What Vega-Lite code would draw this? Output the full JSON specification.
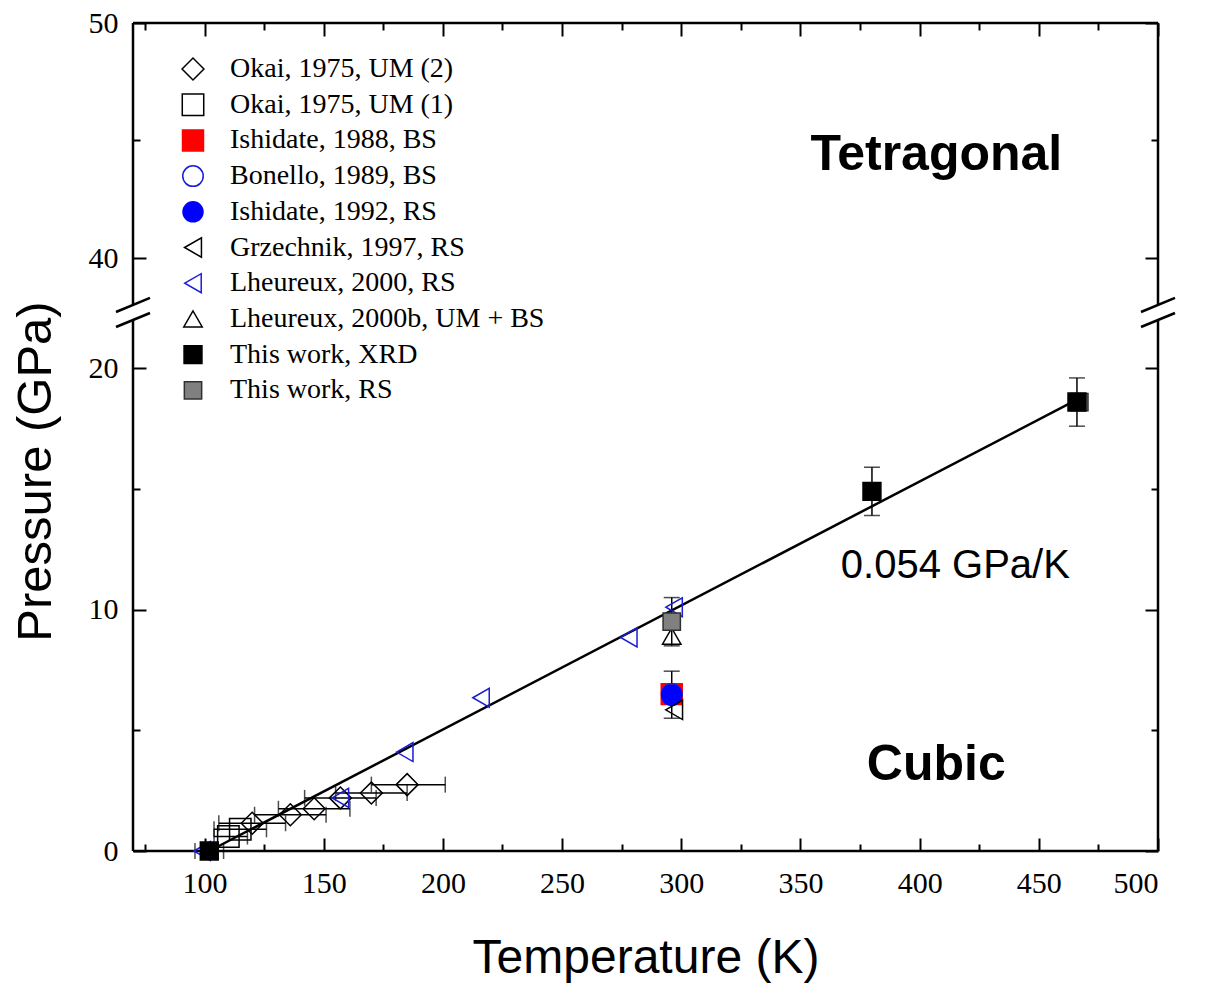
{
  "$schema": "https://vega.github.io/schema/vega-lite/v6.json",
  "width": 1025,
  "height": 828,
  "autosize": {"type": "none"},
  "padding": {"left": 133, "top": 23, "right": 50, "bottom": 134},
  "background": "white",
  "config": {"view": {"stroke": null}, "font": "Liberation Sans"},
  "datasets": {
    "frame": [
      {"x": 70, "x2": 500, "y": 0, "y2": 0},
      {"x": 70, "x2": 500, "y": 50, "y2": 50},
      {"x": 70, "x2": 70, "y": 0, "y2": 22},
      {"x": 70, "x2": 70, "y": 38, "y2": 50},
      {"x": 500, "x2": 500, "y": 0, "y2": 22},
      {"x": 500, "x2": 500, "y": 38, "y2": 50}
    ],
    "slash": [
      {"x": 62.87, "x2": 77.13, "y": 30.53, "y2": 38.3},
      {"x": 62.87, "x2": 77.13, "y": 21.71, "y2": 29.47},
      {"x": 492.87, "x2": 507.13, "y": 30.53, "y2": 38.3},
      {"x": 492.87, "x2": 507.13, "y": 21.71, "y2": 29.47}
    ],
    "fit": [{"T": 102, "P": 0}, {"T": 466, "P": 18.7}],
    "pts": [
      {"s": "Okai, 1975, UM (1)", "T": 110, "P": 0.6, "xlo": 104, "xhi": 118},
      {"s": "Okai, 1975, UM (1)", "T": 115, "P": 0.9, "xlo": 104, "xhi": 126},
      {"s": "Okai, 1975, UM (2)", "T": 120, "P": 1.15, "xlo": 106, "xhi": 134},
      {"s": "Okai, 1975, UM (2)", "T": 136, "P": 1.5, "xlo": 121, "xhi": 151},
      {"s": "Okai, 1975, UM (2)", "T": 146, "P": 1.75, "xlo": 131, "xhi": 161},
      {"s": "Okai, 1975, UM (2)", "T": 157, "P": 2.2, "xlo": 142, "xhi": 172},
      {"s": "Okai, 1975, UM (2)", "T": 170, "P": 2.4, "xlo": 155, "xhi": 185},
      {"s": "Okai, 1975, UM (2)", "T": 185, "P": 2.75, "xlo": 170, "xhi": 201},
      {"s": "Lheureux, 2000, RS", "T": 99, "P": 0},
      {"s": "Lheureux, 2000, RS", "T": 157, "P": 2.2},
      {"s": "Lheureux, 2000, RS", "T": 184, "P": 4.1},
      {"s": "Lheureux, 2000, RS", "T": 216, "P": 6.35},
      {"s": "Lheureux, 2000, RS", "T": 278, "P": 8.85},
      {"s": "Lheureux, 2000, RS", "T": 297, "P": 10.1},
      {"s": "Lheureux, 2000b, UM + BS", "T": 296, "P": 8.9},
      {"s": "Ishidate, 1988, BS", "T": 296, "P": 6.5},
      {"s": "Bonello, 1989, BS", "T": 296, "P": 6.5},
      {"s": "Ishidate, 1992, RS", "T": 296, "P": 6.45, "ylo": 5.5, "yhi": 7.45},
      {"s": "Grzechnik, 1997, RS", "T": 297, "P": 5.85},
      {"s": "This work, RS", "T": 296, "P": 9.5, "ylo": 8.5, "yhi": 10.5},
      {"s": "This work, RS", "T": 467, "P": 18.6},
      {"s": "This work, XRD", "T": 102, "P": 0, "xlo": 96, "xhi": 108},
      {"s": "This work, XRD", "T": 380, "P": 14.9, "ylo": 13.9, "yhi": 15.9},
      {"s": "This work, XRD", "T": 466, "P": 18.6, "ylo": 17.6, "yhi": 19.6}
    ],
    "boldtext": [
      {"T": 407, "P": 44.4, "t": "Tetragonal"},
      {"T": 407, "P": 3.55, "t": "Cubic"}
    ],
    "regtext": [{"T": 415, "P": 11.8, "t": "0.054 GPa/K"}]
  },
  "layer": [
    {
      "data": {"name": "frame"},
      "mark": {"type": "rule", "color": "black", "strokeWidth": 2.5},
      "encoding": {
        "x": {"field": "x", "type": "quantitative", "scale": {"domain": [70, 500], "nice": false, "zero": false},
          "axis": {"orient": "top", "values": [75,100,125,150,175,200,225,250,275,300,325,350,375,400,425,450,475,500], "labels": false, "domain": false, "grid": false, "ticks": true, "tickColor": "black", "tickWidth": 2, "tickSize": {"expr": "datum.value % 50 === 0 ? -13 : -7"}, "title": null}},
        "x2": {"field": "x2"},
        "y": {"field": "y", "type": "quantitative", "scale": {"domain": [0, 22, 38, 50], "range": [828, 297, 282, 0], "nice": false, "zero": false},
          "axis": {"orient": "right", "values": [0,5,10,15,20,40,45,50], "labels": false, "domain": false, "grid": false, "ticks": true, "tickColor": "black", "tickWidth": 2, "tickSize": {"expr": "datum.value % 10 === 0 ? -13 : -7"}, "title": null}},
        "y2": {"field": "y2"}
      }
    },
    {
      "data": {"name": "slash"},
      "mark": {"type": "rule", "color": "black", "strokeWidth": 2.5},
      "encoding": {
        "x": {"field": "x", "type": "quantitative", "axis": null},
        "x2": {"field": "x2"},
        "y": {"field": "y", "type": "quantitative", "axis": null},
        "y2": {"field": "y2"}
      }
    },
    {
      "data": {"name": "fit"},
      "mark": {"type": "line", "color": "black", "strokeWidth": 2.5},
      "encoding": {
        "x": {"field": "T", "type": "quantitative",
          "axis": {"orient": "bottom", "values": [75,100,125,150,175,200,225,250,275,300,325,350,375,400,425,450,475,500], "labelExpr": "datum.value % 50 === 0 ? datum.label : ''", "format": "d", "domain": false, "grid": false, "ticks": true, "tickColor": "black", "tickWidth": 2, "tickSize": {"expr": "datum.value % 50 === 0 ? -13 : -7"}, "labelFont": "Liberation Serif", "labelFontSize": 30, "labelColor": "black", "labelPadding": 30, "title": "Temperature (K)", "titleFont": "Liberation Sans", "titleFontSize": 48, "titleFontWeight": "normal", "titleColor": "black", "titlePadding": 36}},
        "y": {"field": "P", "type": "quantitative",
          "axis": {"orient": "left", "values": [0,5,10,15,20,40,45,50], "labelExpr": "datum.value % 10 === 0 ? datum.label : ''", "format": "d", "domain": false, "grid": false, "ticks": true, "tickColor": "black", "tickWidth": 2, "tickSize": {"expr": "datum.value % 10 === 0 ? -13 : -7"}, "labelFont": "Liberation Serif", "labelFontSize": 30, "labelColor": "black", "labelPadding": 28, "title": "Pressure (GPa)", "titleFont": "Liberation Sans", "titleFontSize": 49, "titleFontWeight": "normal", "titleColor": "black", "titlePadding": 28, "titleY": 448}}
      }
    },
    {
      "data": {"name": "pts"},
      "transform": [{"filter": "isValid(datum.xlo)"}],
      "mark": {"type": "errorbar", "orient": "horizontal", "color": "black", "thickness": 1.5, "ticks": {"size": 16, "thickness": 1.5, "color": "black"}},
      "encoding": {
        "y": {"field": "P", "type": "quantitative", "axis": null},
        "x": {"field": "xlo", "type": "quantitative", "axis": null},
        "x2": {"field": "xhi"}
      }
    },
    {
      "data": {"name": "pts"},
      "transform": [{"filter": "isValid(datum.ylo)"}],
      "mark": {"type": "errorbar", "orient": "vertical", "color": "black", "thickness": 1.5, "ticks": {"size": 16, "thickness": 1.5, "color": "black"}},
      "encoding": {
        "x": {"field": "T", "type": "quantitative", "axis": null},
        "y": {"field": "ylo", "type": "quantitative", "axis": null},
        "y2": {"field": "yhi"}
      }
    },
    {
      "data": {"name": "pts"},
      "mark": {"type": "point", "strokeWidth": 1.5, "opacity": 1, "filled": false},
      "encoding": {
        "x": {"field": "T", "type": "quantitative", "axis": null},
        "y": {"field": "P", "type": "quantitative", "axis": null},
        "shape": {"field": "s", "type": "nominal",
          "scale": {"domain": ["Okai, 1975, UM (2)", "Okai, 1975, UM (1)", "Ishidate, 1988, BS", "Bonello, 1989, BS", "Ishidate, 1992, RS", "Grzechnik, 1997, RS", "Lheureux, 2000, RS", "Lheureux, 2000b, UM + BS", "This work, XRD", "This work, RS"],
            "range": ["diamond", "square", "square", "circle", "circle", "triangle-left", "triangle-left", "triangle-up", "square", "square"]},
          "legend": {"orient": "none", "legendX": 46, "legendY": 32, "title": null, "labelFont": "Liberation Serif", "labelFontSize": 28, "labelColor": "black", "rowPadding": 7.7, "labelOffset": 23, "symbolStrokeWidth": 1.5, "labelLimit": 500}},
        "fill": {"field": "s", "type": "nominal",
          "scale": {"domain": ["Okai, 1975, UM (2)", "Okai, 1975, UM (1)", "Ishidate, 1988, BS", "Bonello, 1989, BS", "Ishidate, 1992, RS", "Grzechnik, 1997, RS", "Lheureux, 2000, RS", "Lheureux, 2000b, UM + BS", "This work, XRD", "This work, RS"],
            "range": ["transparent", "transparent", "#ff0000", "transparent", "#0000ff", "transparent", "transparent", "transparent", "#000000", "#808080"]}},
        "stroke": {"field": "s", "type": "nominal",
          "scale": {"domain": ["Okai, 1975, UM (2)", "Okai, 1975, UM (1)", "Ishidate, 1988, BS", "Bonello, 1989, BS", "Ishidate, 1992, RS", "Grzechnik, 1997, RS", "Lheureux, 2000, RS", "Lheureux, 2000b, UM + BS", "This work, XRD", "This work, RS"],
            "range": ["#000000", "#000000", "#ff0000", "#1c1cd8", "#0000ff", "#000000", "#1c1cd8", "#000000", "#000000", "#303030"]}},
        "size": {"field": "s", "type": "nominal",
          "scale": {"domain": ["Okai, 1975, UM (2)", "Okai, 1975, UM (1)", "Ishidate, 1988, BS", "Bonello, 1989, BS", "Ishidate, 1992, RS", "Grzechnik, 1997, RS", "Lheureux, 2000, RS", "Lheureux, 2000b, UM + BS", "This work, XRD", "This work, RS"],
            "range": [480, 300, 220, 330, 340, 380, 380, 380, 330, 330]}}
      }
    },
    {
      "data": {"name": "boldtext"},
      "mark": {"type": "text", "font": "Liberation Sans", "fontWeight": "bold", "fontSize": 50, "color": "black", "align": "center", "baseline": "middle"},
      "encoding": {
        "x": {"field": "T", "type": "quantitative", "axis": null},
        "y": {"field": "P", "type": "quantitative", "axis": null},
        "text": {"field": "t"}
      }
    },
    {
      "data": {"name": "regtext"},
      "mark": {"type": "text", "font": "Liberation Sans", "fontSize": 40, "color": "black", "align": "center", "baseline": "middle"},
      "encoding": {
        "x": {"field": "T", "type": "quantitative", "axis": null},
        "y": {"field": "P", "type": "quantitative", "axis": null},
        "text": {"field": "t"}
      }
    }
  ],
  "resolve": {"axis": {"x": "independent", "y": "independent"}}
}
